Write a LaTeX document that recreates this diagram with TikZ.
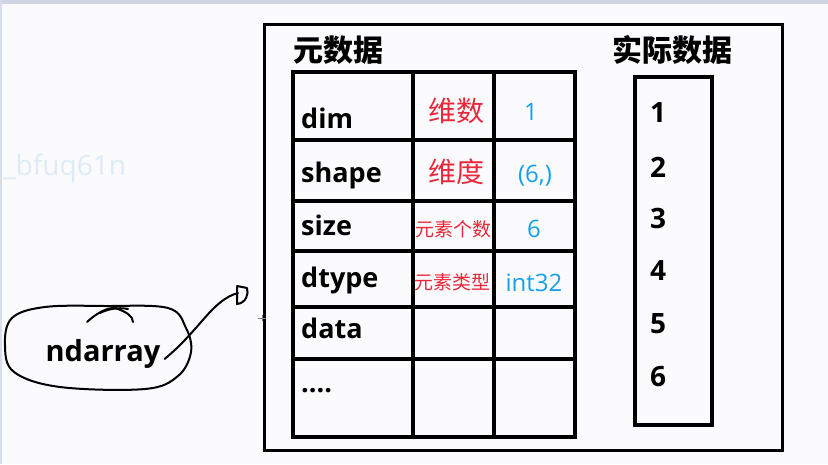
\documentclass[tikz,border=0pt]{standalone}
\usepackage{fontspec}
\setmainfont{Open Sans}
\newfontfamily\cjk{Noto Sans CJK SC}
\usetikzlibrary{positioning}
\definecolor{metared}{RGB}{232,40,58}
\definecolor{metablue}{RGB}{22,160,235}
\definecolor{wmark}{RGB}{220,235,245}
\definecolor{paper}{RGB}{251,251,253}
\definecolor{topbar}{RGB}{208,212,228}

\tikzset{
  frame/.style={line width=3pt},
  gridline/.style={line width=3.5pt},
  scribble/.style={line width=2pt, line cap=round, line join=round},
  title/.style={font=\cjk\fontsize{30}{32}\selectfont\bfseries, inner sep=0pt},
  fieldname/.style={font=\fontsize{27}{30}\selectfont\bfseries, anchor=base west, inner sep=0pt},
  meaning/.style={font=\cjk\fontsize{28}{30}\selectfont, text=metared, inner sep=0pt},
  smallmeaning/.style={font=\cjk\fontsize{19}{22}\selectfont, text=metared, inner sep=0pt},
  value/.style={font=\fontsize{24}{26}\selectfont, text=metablue, anchor=base, inner sep=0pt},
  datum/.style={font=\fontsize{28}{30}\selectfont\bfseries, inner sep=0pt}
}

\begin{document}
\begin{tikzpicture}[x=1pt,y=-1pt]

  % ---- canvas ----
  \useasboundingbox (0,0) rectangle (828,464);
  \fill[paper] (0,0) rectangle (828,464);
  \fill[topbar] (0,0) rectangle (828,4);
  \fill[topbar!80] (0,0) rectangle (2,464);
  \node[font=\fontsize{28}{30}\selectfont, text=wmark, anchor=base west, inner sep=0pt] (wm) at (3,175) {\_bfuq61n};

  % ---- outer frame ----
  \draw[frame] (264,24) rectangle (782,450);
  \node[title, anchor=west] (meta) at (293,50) {元数据};
  \node[title] (real) at (672,50) {实际数据};

  % ---- metadata table ----
  \draw[gridline] (293,72) rectangle (575,437);
  \foreach \y in {140,201,251,307,359}
    \draw[gridline] (293,\y) -- (575,\y);
  \foreach \x in {413,494}
    \draw[gridline] (\x,72) -- (\x,437);

  \node[fieldname] (kdim)   at (301,128) {dim};
  \node[fieldname] (kshape) at (301,182) {shape};
  \node[fieldname] (ksize)  at (301,235) {size};
  \node[fieldname] (kdtype) at (301,287) {dtype};
  \node[fieldname] (kdata)  at (301,338) {data};
  \node[fieldname] (kmore)  at (301,392) {....};

  \node[meaning]      (mdim)   at (456,111) {维数};
  \node[meaning]      (mshape) at (456,172) {维度};
  \node[smallmeaning] (msize)  at (453,229) {元素个数};
  \node[smallmeaning] (mdtype) at (452,282) {元素类型};

  \node[value] (vdim)   at (531,120) {1};
  \node[value] (vshape) at (535,182) {(6,)};
  \node[value] (vsize)  at (534,237) {6};
  \node[value] (vdtype) at (534,291) {int32};

  % ---- actual data ----
  \draw[gridline] (635,77) rectangle (712,425);
  \foreach \v/\y in {1/113,2/167,3/218,4/271,5/324,6/377}
    \node[datum] (d\v) at (658,\y) {\v};

  % ---- ndarray sketch ----
  \node[font=\fontsize{29}{32}\selectfont\bfseries, inner sep=0pt] (nd) at (103,354) {ndarray};
  \draw[scribble] plot[smooth cycle, tension=0.6] coordinates
    {(12,318) (45,307) (105,306) (168,308) (186,328) (191,352) (178,376) (145,389) (60,387) (14,372) (5,345)};
  \draw[scribble] (87,322) .. controls (100,310) and (112,306) .. (118,309)
                  .. controls (126,312) and (133,316) .. (133,322);
  \draw[scribble] (100,313) .. controls (108,309) and (118,307) .. (128,309);
  \coordinate (tip) at (238,293);
  \draw[scribble] (nd.east) ++(4,5) .. controls (200,330) and (212,300) .. (tip);
  \draw[scribble] (237,286) -- (237,304) .. controls (246,303) and (249,294) .. (247,288) -- (237,286);
  \draw[gray, line width=0.6pt] (258,318) -- (266,318) (262,315) -- (262,321);

\end{tikzpicture}
\end{document}
